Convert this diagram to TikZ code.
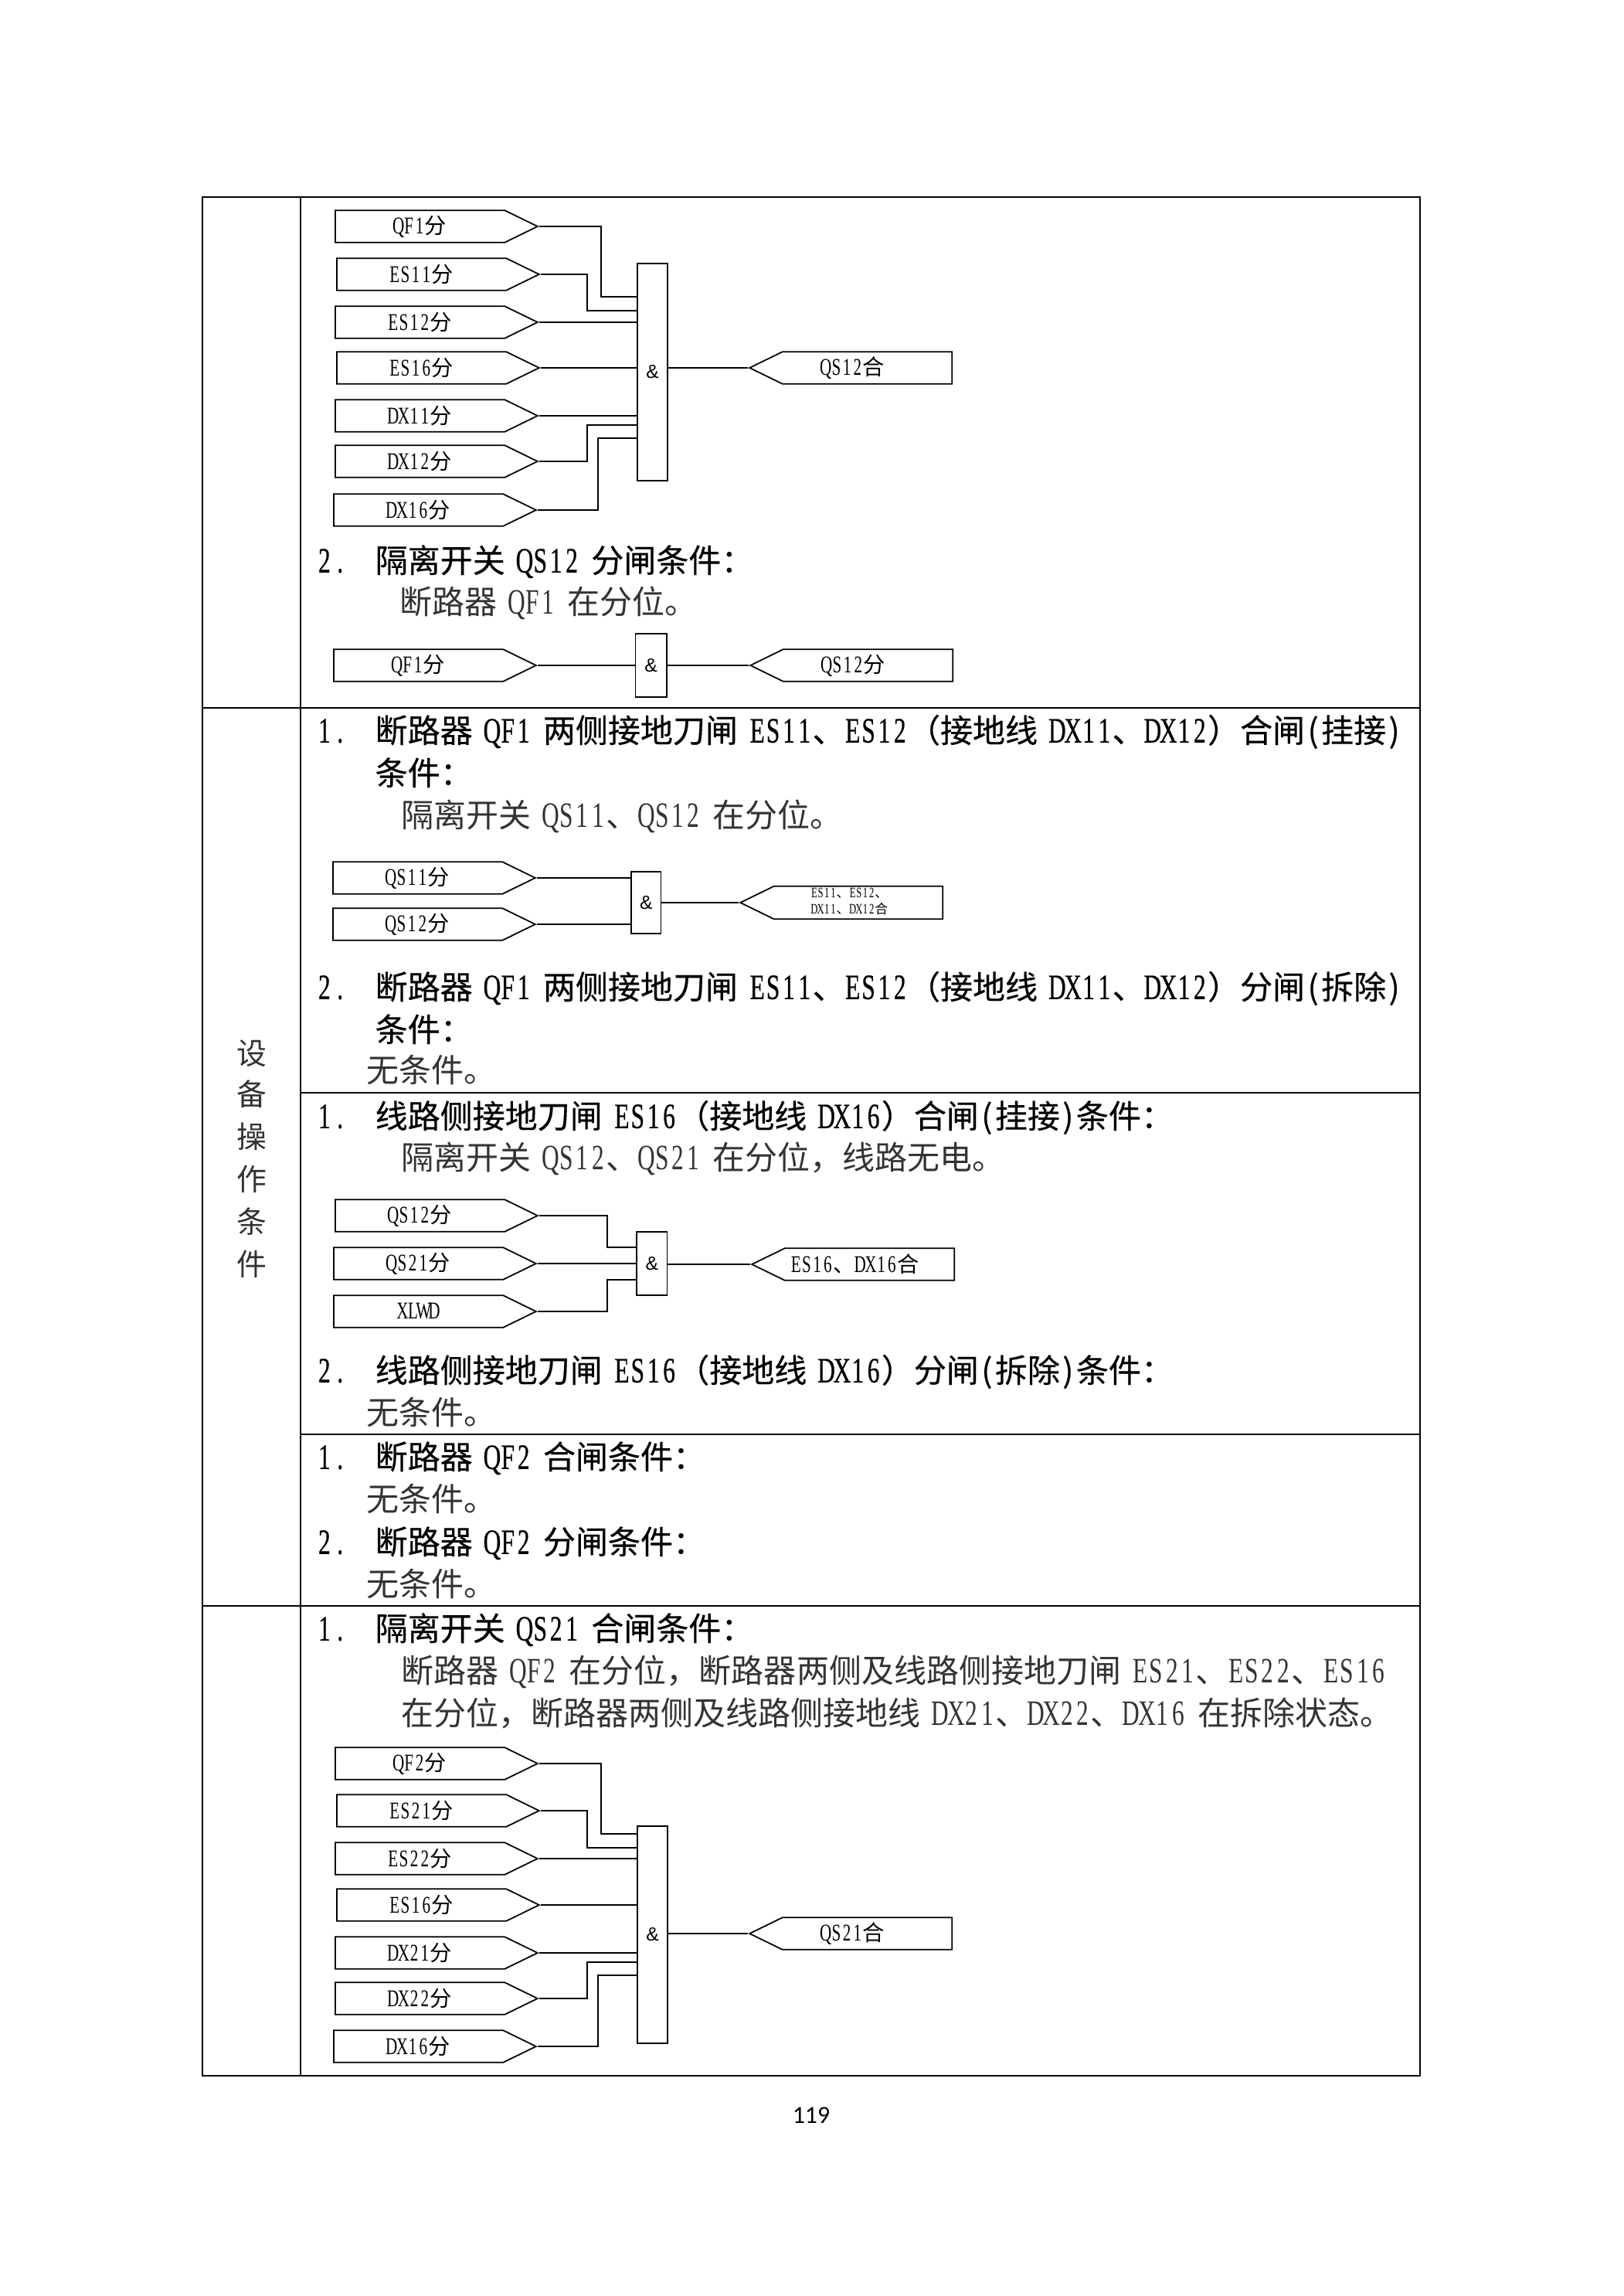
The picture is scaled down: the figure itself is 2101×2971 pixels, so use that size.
\documentclass[tikz,border=0pt]{standalone}
\usepackage{fontspec}
\setmainfont[WordSpace=1.6]{Noto Sans CJK SC}
\newfontfamily\hdfont[FakeBold=0.35,WordSpace=1.6]{Noto Sans CJK SC}
\newfontfamily\enplain[FakeStretch=0.68,Scale=1.1]{Liberation Serif}
\newfontfamily\enheavy[FakeStretch=0.68,Scale=1.1,FakeBold=0.5]{Liberation Serif}
\newfontfamily\pagefont{Carlito}
\newfontfamily\andfont{Liberation Sans}
\let\enfont\enplain
\makeatletter
\newcommand{\en}[1]{\@tfor\enchar:=#1\do{\makebox[0.485em][c]{\enfont\enchar}}}
\makeatother
\newcommand{\lpar}{\makebox[0.5em][c]{(}}
\newcommand{\rpar}{\makebox[0.5em][c]{)}}
\usetikzlibrary{shapes.symbols}

\tikzset{
  hdline/.style={anchor=base west,inner sep=0pt,yshift=-0.5pt,font=\fontsize{11.9}{14}\hdfont\let\enfont\enheavy},
  bodyline/.style={anchor=base west,inner sep=0pt,yshift=-0.5pt,text=black!80,font=\fontsize{11.9}{14}\selectfont\let\enfont\enplain},
  sidelabel/.style={inner sep=0pt,yshift=-0.3pt,text=black!80,font=\fontsize{11}{13}\selectfont},
  tagbox/.style={draw,shape=signal,signal from=nowhere,inner sep=0pt,line width=0.5pt,
    minimum height=11.8pt,minimum width=74.2pt,signal pointer angle=52,
    font=\fontsize{8}{10}\selectfont},
  tagout/.style={tagbox,signal to=east,anchor=west},
  tagin/.style={tagbox,signal to=west,anchor=east,execute at end node=\hspace*{10.8pt}},
  andbox/.style={draw,inner sep=0pt,line width=0.5pt,font=\fontsize{7}{8}\andfont},
  wire/.style={line width=0.5pt},
  frameline/.style={line width=0.75pt},
}

\begin{document}
\begin{tikzpicture}[x=0.2833pt,y=-0.2833pt]
  \useasboundingbox (0,0) rectangle (2101,2971);

  % table
  \draw[frameline] (262,255) rectangle (1838,2686);
  \draw[frameline] (389,255) -- (389,2686);
  \draw[frameline] (262,916) -- (1838,916);
  \draw[frameline] (389,1414) -- (1838,1414);
  \draw[frameline] (389,1856) -- (1838,1856);
  \draw[frameline] (262,2078) -- (1838,2078);

  \node[sidelabel] (side1) at (326,1362) {设};
  \node[sidelabel] (side2) at (326,1415) {备};
  \node[sidelabel] (side3) at (326,1470) {操};
  \node[sidelabel] (side4) at (326,1525) {作};
  \node[sidelabel] (side5) at (326,1580) {条};
  \node[sidelabel] (side6) at (326,1635) {件};

  % QS12 close
  \node[tagout] (a1) at (433,293) {\en{QF1}分};
  \node[tagout] (a2) at (435,355) {\en{ES11}分};
  \node[tagout] (a3) at (433,417) {\en{ES12}分};
  \node[tagout] (a4) at (435,476) {\en{ES16}分};
  \node[tagout] (a5) at (433,538) {\en{DX11}分};
  \node[tagout] (a6) at (433,597) {\en{DX12}分};
  \node[tagout] (a7) at (431,660) {\en{DX16}分};
  \node[andbox,minimum width=11.1pt,minimum height=79.6pt] (anda) at (844.5,481.5) {\&};
  \node[tagin] (aout) at (1233,476) {\en{QS12}合};
  \draw[wire] (a1.east) -| (778,384) -- (778,384 -| anda.west);
  \draw[wire] (a2.east) -| (760,402) -- (760,402 -| anda.west);
  \draw[wire] (a3.east) -- (a3.east -| anda.west);
  \draw[wire] (a4.east) -- (a4.east -| anda.west);
  \draw[wire] (a5.east) -- (a5.east -| anda.west);
  \draw[wire] (a6.east) -| (760,550) -- (760,550 -| anda.west);
  \draw[wire] (a7.east) -| (774,567) -- (774,567 -| anda.west);
  \draw[wire] (anda.east |- aout.west) -- (aout.west);

  \node[hdline] (n1) at (409,739) {\en{2.}};
  \node[hdline] (t1) at (485,739) {隔离开关 \en{QS12} 分闸条件：};
  \node[bodyline] (t2) at (517,793) {断路器 \en{QF1} 在分位。};

  % QS12 open
  \node[tagout] (b1) at (431,861) {\en{QF1}分};
  \node[andbox,minimum width=11.4pt,minimum height=23.2pt] (andb) at (842.5,861) {\&};
  \node[tagin] (bout) at (1234,861) {\en{QS12}分};
  \draw[wire] (b1.east) -- (andb.west);
  \draw[wire] (andb.east) -- (bout.west);

  % earth switches
  \node[hdline] (n3) at (409,959) {\en{1.}};
  \node[hdline] (t3) at (485,959) {断路器 \en{QF1} 两侧接地刀闸 \en{ES11}、\en{ES12}（接地线 \en{DX11}、\en{DX12}）合闸\lpar 挂接\rpar};
  \node[hdline] (t4) at (485,1014) {条件：};
  \node[bodyline] (t5) at (519,1069) {隔离开关 \en{QS11}、\en{QS12} 在分位。};

  \node[tagout] (c1) at (430,1136) {\en{QS11}分};
  \node[tagout] (c2) at (430,1196) {\en{QS12}分};
  \node[andbox,minimum width=10.9pt,minimum height=22.7pt] (andc) at (836.3,1168) {\&};
  \node[tagin,font=\fontsize{4.8}{6}\selectfont] (cout) at (1221,1168)
    {\hspace*{4.4pt}\begin{tabular}{@{}l@{}}\en{ES11}、\en{ES12}、\\\en{DX11}、\en{DX12}合\end{tabular}};
  \draw[wire] (c1.east) -- (c1.east -| andc.west);
  \draw[wire] (c2.east) -- (c2.east -| andc.west);
  \draw[wire] (andc.east |- cout.west) -- (cout.west);

  \node[hdline] (n6) at (409,1291) {\en{2.}};
  \node[hdline] (t6) at (485,1291) {断路器 \en{QF1} 两侧接地刀闸 \en{ES11}、\en{ES12}（接地线 \en{DX11}、\en{DX12}）分闸\lpar 拆除\rpar};
  \node[hdline] (t7) at (485,1346) {条件：};
  \node[bodyline] (t8) at (474,1399) {无条件。};

  % line side earth switch
  \node[hdline] (n9) at (409,1458) {\en{1.}};
  \node[hdline] (t9) at (485,1458) {线路侧接地刀闸 \en{ES16}（接地线 \en{DX16}）合闸\lpar 挂接\rpar 条件：};
  \node[bodyline] (t10) at (519,1512) {隔离开关 \en{QS12}、\en{QS21} 在分位，线路无电。};

  \node[tagout] (d1) at (433,1573) {\en{QS12}分};
  \node[tagout] (d2) at (431,1635) {\en{QS21}分};
  \node[tagout] (d3) at (431,1697) {\en{XLWD}};
  \node[andbox,minimum width=11.1pt,minimum height=23.2pt] (andd) at (843.8,1635) {\&};
  \node[tagin] (dout) at (1236,1636) {\en{ES16}、\en{DX16}合};
  \draw[wire] (d1.east) -| (786,1614) -- (786,1614 -| andd.west);
  \draw[wire] (d2.east) -- (d2.east -| andd.west);
  \draw[wire] (d3.east) -| (786,1656) -- (786,1656 -| andd.west);
  \draw[wire] (andd.east |- dout.west) -- (dout.west);

  \node[hdline] (n11) at (409,1787) {\en{2.}};
  \node[hdline] (t11) at (485,1787) {线路侧接地刀闸 \en{ES16}（接地线 \en{DX16}）分闸\lpar 拆除\rpar 条件：};
  \node[bodyline] (t12) at (474,1842) {无条件。};

  % QF2
  \node[hdline] (n13) at (409,1899) {\en{1.}};
  \node[hdline] (t13) at (485,1899) {断路器 \en{QF2} 合闸条件：};
  \node[bodyline] (t14) at (474,1954) {无条件。};
  \node[hdline] (n15) at (409,2009) {\en{2.}};
  \node[hdline] (t15) at (485,2009) {断路器 \en{QF2} 分闸条件：};
  \node[bodyline] (t16) at (474,2064) {无条件。};

  % QS21 close
  \node[hdline] (n17) at (409,2121) {\en{1.}};
  \node[hdline] (t17) at (485,2121) {隔离开关 \en{QS21} 合闸条件：};
  \node[bodyline] (t18) at (519,2176) {断路器 \en{QF2} 在分位，断路器两侧及线路侧接地刀闸 \en{ES21}、\en{ES22}、\en{ES16}};
  \node[bodyline] (t19) at (519,2231) {在分位，断路器两侧及线路侧接地线 \en{DX21}、\en{DX22}、\en{DX16} 在拆除状态。};

  \node[tagout] (e1) at (433,2282) {\en{QF2}分};
  \node[tagout] (e2) at (435,2343) {\en{ES21}分};
  \node[tagout] (e3) at (433,2405) {\en{ES22}分};
  \node[tagout] (e4) at (435,2465) {\en{ES16}分};
  \node[tagout] (e5) at (433,2527) {\en{DX21}分};
  \node[tagout] (e6) at (433,2586) {\en{DX22}分};
  \node[tagout] (e7) at (431,2648) {\en{DX16}分};
  \node[andbox,minimum width=11.1pt,minimum height=79.6pt] (ande) at (844.5,2503.5) {\&};
  \node[tagin] (eout) at (1233,2502) {\en{QS21}合};
  \draw[wire] (e1.east) -| (778,2373) -- (778,2373 -| ande.west);
  \draw[wire] (e2.east) -| (760,2391) -- (760,2391 -| ande.west);
  \draw[wire] (e3.east) -- (e3.east -| ande.west);
  \draw[wire] (e4.east) -- (e4.east -| ande.west);
  \draw[wire] (e5.east) -- (e5.east -| ande.west);
  \draw[wire] (e6.east) -| (760,2539) -- (760,2539 -| ande.west);
  \draw[wire] (e7.east) -| (774,2556) -- (774,2556 -| ande.west);
  \draw[wire] (ande.east |- eout.west) -- (eout.west);

  \node[inner sep=0pt,font=\fontsize{9}{11}\pagefont] (page) at (1050,2737) {119};
\end{tikzpicture}
\end{document}
